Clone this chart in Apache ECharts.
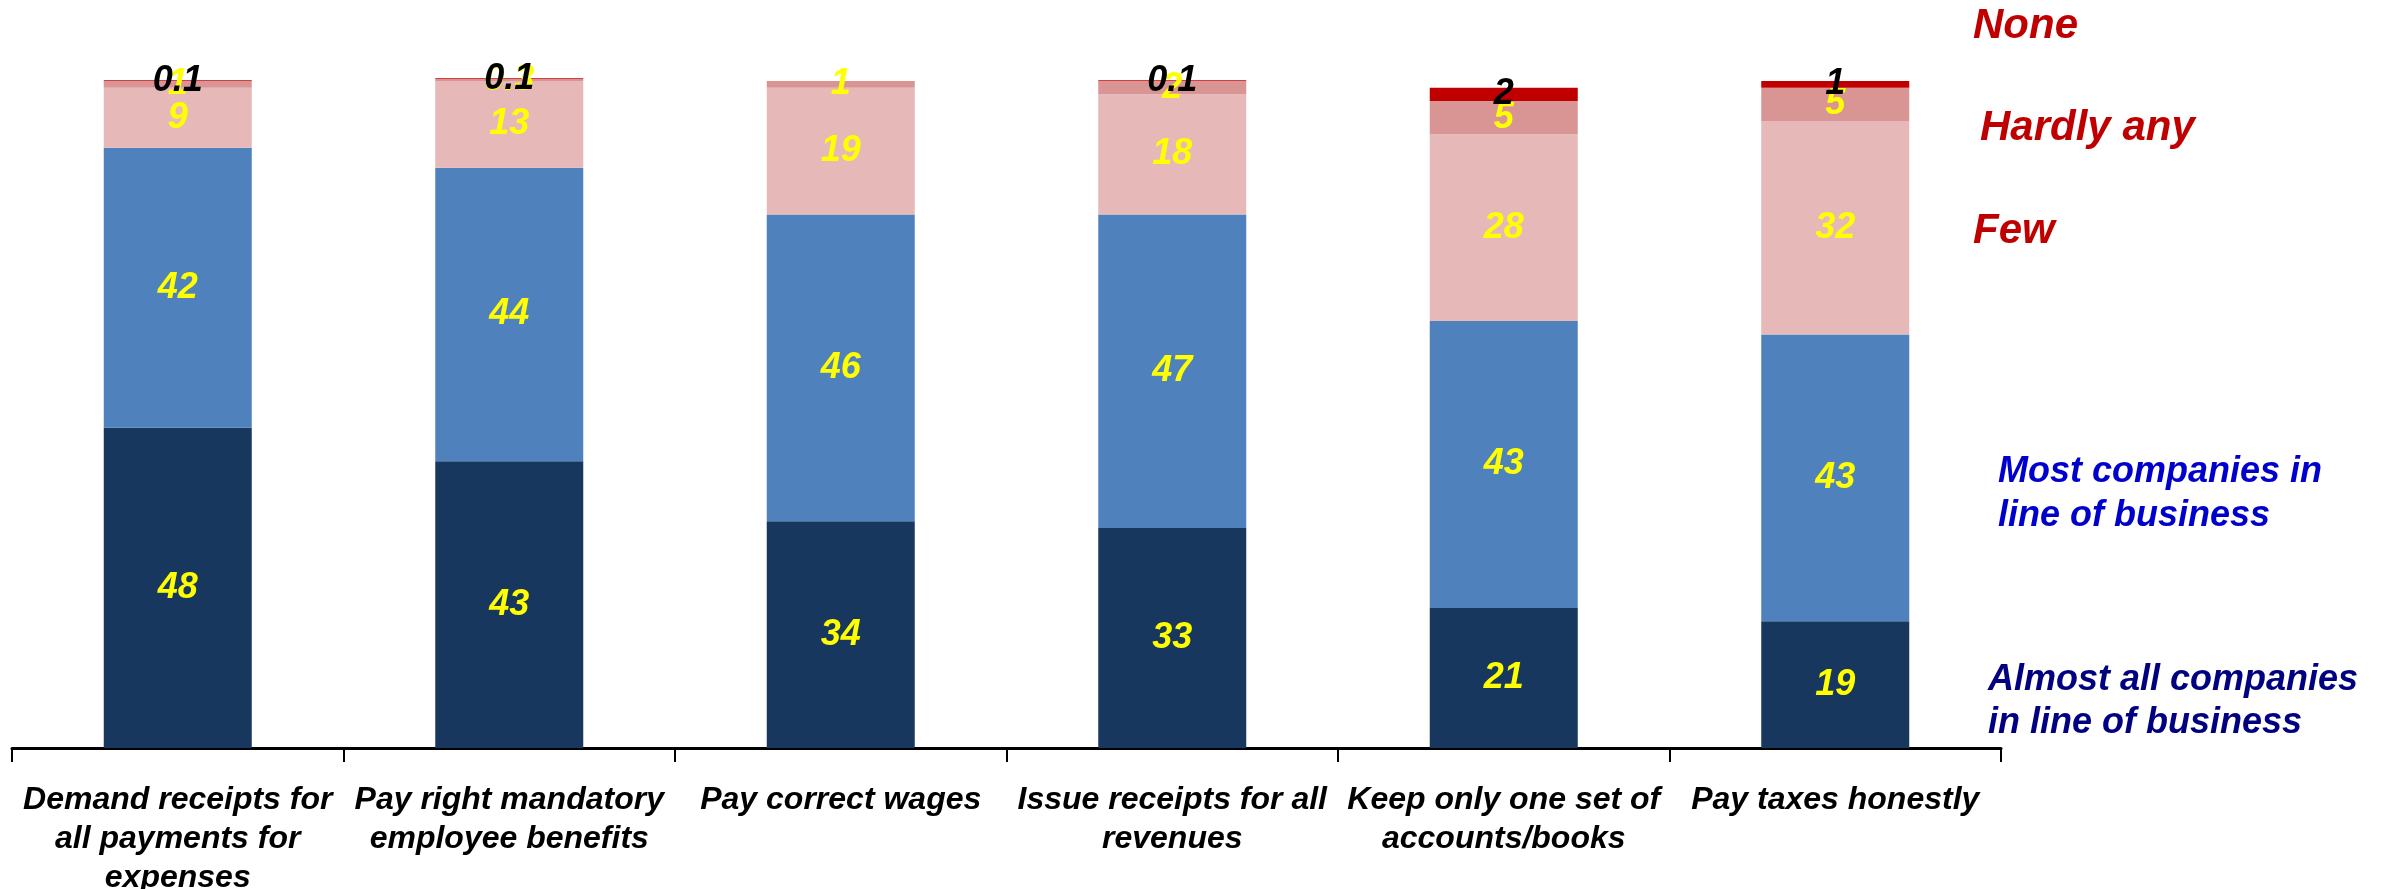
<!DOCTYPE html>
<html>
<head>
<meta charset="utf-8">
<script src="https://cdn.jsdelivr.net/npm/echarts@6/dist/echarts.min.js"></script>
<style>
html,body{margin:0;padding:0;background:#fff;}
#chart{width:2390px;height:889px;}
</style>
</head>
<body>
<div id="chart"></div>
<script>
const categories = [
  "Demand receipts for\nall payments for\nexpenses",
  "Pay right mandatory\nemployee benefits",
  "Pay correct wages",
  "Issue receipts for all\nrevenues",
  "Keep only one set of\naccounts/books",
  "Pay taxes honestly"
];
const almostAll = [48, 43, 34, 33, 21, 19];
const most      = [42, 44, 46, 47, 43, 43];
const few       = [9, 13, 19, 18, 28, 32];
const hardlyAny = [1, 0.3, 1, 2, 5, 5];
const none      = [0.1, 0.1, null, 0.1, 2, 1];

const FONT = "'Liberation Sans', Arial, sans-serif";

function mkSeries(name, data, color, labelColor) {
  return {
    name: name,
    type: 'bar',
    stack: 'total',
    barWidth: 148,
    clip: false,
    data: data,
    itemStyle: { color: color },
    label: {
      show: true,
      position: 'inside',
      color: labelColor,
      fontFamily: FONT,
      fontStyle: 'italic',
      fontWeight: 'bold',
      fontSize: 36,
      formatter: p => (p.value ? String(p.value) : '')
    },
    emphasis: { disabled: true },
    animation: false
  };
}

const chart = echarts.init(document.getElementById('chart'), null, { renderer: 'canvas' });
chart.setOption({
  backgroundColor: '#ffffff',
  animation: false,
  grid: { left: 12, right: 389, top: 81, bottom: 141, containLabel: false, outerBoundsMode: 'none' },
  xAxis: {
    type: 'category',
    data: categories,
    axisLine: { show: true, lineStyle: { color: '#000', width: 3 } },
    axisTick: { show: true, length: 14, lineStyle: { color: '#000', width: 2 } },
    axisLabel: {
      interval: 0,
      margin: 33,
      color: '#000',
      fontFamily: FONT,
      fontStyle: 'italic',
      fontWeight: 'bold',
      fontSize: 32,
      lineHeight: 39
    }
  },
  yAxis: { type: 'value', min: 0, max: 100, show: false, splitLine: { show: false } },
  series: [
    mkSeries('Almost all companies in line of business', almostAll, '#17375E', '#FFFF00'),
    mkSeries('Most companies in line of business', most, '#4F81BD', '#FFFF00'),
    mkSeries('Few', few, '#E6B9B8', '#FFFF00'),
    mkSeries('Hardly any', hardlyAny, '#D99594', '#FFFF00'),
    mkSeries('None', none, '#C00000', '#000000')
  ],
  graphic: [
    { type: 'text', left: 1973, top: 5, style: { text: 'None', fill: '#C00000', font: "italic bold 42px " + FONT } },
    { type: 'text', left: 1980, top: 107, style: { text: 'Hardly any', fill: '#C00000', font: "italic bold 42px " + FONT } },
    { type: 'text', left: 1973, top: 210, style: { text: 'Few', fill: '#C00000', font: "italic bold 42px " + FONT } },
    { type: 'text', left: 1998, top: 450, style: { text: 'Most companies in\nline of business', fill: '#0000CC', font: "italic bold 36px " + FONT, lineHeight: 44 } },
    { type: 'text', left: 1988, top: 659, style: { text: 'Almost all companies\nin line of business', fill: '#000080', font: "italic bold 36px " + FONT, lineHeight: 43 } }
  ]
});
</script>
</body>
</html>
